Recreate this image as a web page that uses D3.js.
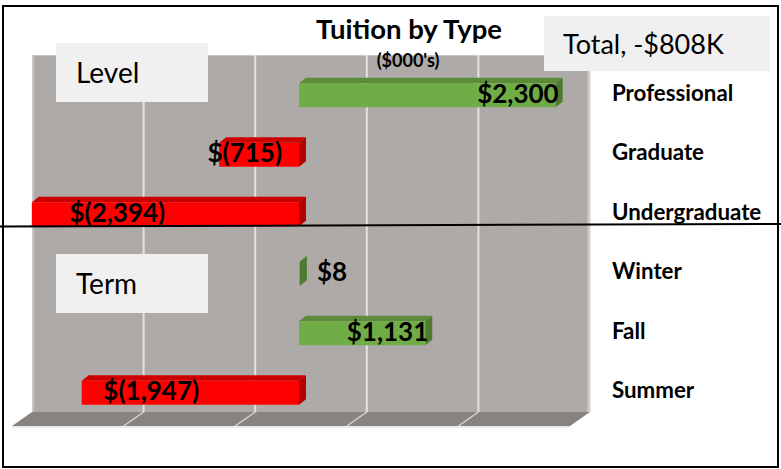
<!DOCTYPE html>
<html>
<head>
<meta charset="utf-8">
<script src="https://cdn.jsdelivr.net/npm/d3@7/dist/d3.min.js"></script>
<style>
  html, body { margin: 0; padding: 0; background: #ffffff; }
  svg { display: block; }
  text { font-family: Lato, "Open Sans", sans-serif; }
</style>
</head>
<body>
<svg id="chart" width="781" height="469"></svg>
<script>
// ---- data ----
const categories = ["Professional", "Graduate", "Undergraduate", "Winter", "Fall", "Summer"];
const values = [2300, -715, -2394, 8, 1131, -1947];
const gridTicks = [-2500, -1500, -500, 500, 1500, 2500];
const groups = ["Level", "Term"];
const totalValue = -808;
const title = "Tuition by Type";
const subtitle = "($000's)";

// ---- layout ----
const W = 781, H = 469;
const wall = { x0: 32, x1: 590, y0: 55, y1: 412 };
const depth = { dx: -20, dy: 14 };          // floor depth (back -> front)
const barFront = { dx: -12, dy: 10.5 };      // bar front plane offset from wall
const barTop = { dx: 7, dy: -5.5 };          // visible top / side depth of bars
const barH = 24;
const groupBoxTops = [43, 254];

const colors = {
  wall: "#aeaaa8", floor: "#878381", grid: "#e2e2e2",
  posFront: "#70ad47", posTop: "#5b8c39", posSide: "#4f7b30",
  negFront: "#ff0000", negTop: "#cc0000", negSide: "#b00000",
  box: "#f0f0f0"
};

const svg = d3.select("#chart");

const x = d3.scaleLinear().domain([-2500, 2500]).range([wall.x0, wall.x1]);
const y = d3.scaleBand().domain(categories).range([wall.y0, wall.y1]);
const xf = v => x(v) + barFront.dx;
const yc = c => y(c) + y.bandwidth() / 2 + barFront.dy;

const fmt = d3.format(",");
const label = v => v < 0 ? "$(" + fmt(-v) + ")" : "$" + fmt(v);

// outer frame
svg.append("rect").attr("x", 3).attr("y", 6).attr("width", 775).attr("height", 461)
  .attr("fill", "#fff").attr("stroke", "#000").attr("stroke-width", 2);

// back wall
svg.append("rect").attr("x", wall.x0).attr("y", wall.y0)
  .attr("width", wall.x1 - wall.x0).attr("height", wall.y1 - wall.y0)
  .attr("fill", colors.wall);
svg.append("line").attr("x1", wall.x0 + 1).attr("x2", wall.x0 + 1)
  .attr("y1", wall.y0).attr("y2", wall.y1).attr("stroke", "#c9c7c5").attr("stroke-width", 2);
svg.append("line").attr("x1", wall.x1 - 1).attr("x2", wall.x1 - 1)
  .attr("y1", wall.y0).attr("y2", wall.y1).attr("stroke", "#cfcdcb").attr("stroke-width", 3);
svg.append("line").attr("x1", wall.x0).attr("x2", wall.x1)
  .attr("y1", wall.y0 + 0.5).attr("y2", wall.y0 + 0.5).attr("stroke", "#c9c7c5").attr("stroke-width", 1);

// floor
const floorPts = [[wall.x0, wall.y1], [wall.x1, wall.y1],
  [wall.x1 + depth.dx, wall.y1 + depth.dy], [wall.x0 + depth.dx, wall.y1 + depth.dy]];
svg.append("polygon").attr("points", floorPts.map(p => p.join(",")).join(" "))
  .attr("fill", colors.floor);
svg.append("line").attr("x1", wall.x0 + depth.dx).attr("x2", wall.x1 + depth.dx)
  .attr("y1", wall.y1 + depth.dy + 1).attr("y2", wall.y1 + depth.dy + 1)
  .attr("stroke", "#e4e4e4").attr("stroke-width", 1.5);

// gridlines (wall + floor)
const inner = gridTicks.filter(t => x(t) > wall.x0 + 2 && x(t) < wall.x1 - 2);
svg.append("g").selectAll("line").data(inner).join("line")
  .attr("x1", d => x(d)).attr("x2", d => x(d))
  .attr("y1", wall.y0).attr("y2", wall.y1)
  .attr("stroke", colors.grid).attr("stroke-width", 2);
svg.append("g").selectAll("line").data(inner).join("line")
  .attr("x1", d => x(d)).attr("x2", d => x(d) + depth.dx)
  .attr("y1", wall.y1).attr("y2", wall.y1 + depth.dy)
  .attr("stroke", "#d6d6d6").attr("stroke-width", 1.5);

// bars
const data = categories.map((c, i) => ({ c, v: values[i] }));
const bars = svg.append("g").selectAll("g").data(data).join("g");
bars.each(function(d) {
  const g = d3.select(this);
  const pos = d.v >= 0;
  const xl = Math.min(xf(0), xf(d.v)), xr = Math.max(xf(0), xf(d.v));
  const yt = yc(d.c) - barH / 2, yb = yt + barH;
  const tdx = barTop.dx, tdy = barTop.dy;
  g.append("polygon")
    .attr("points", [[xl, yt], [xr, yt], [xr + tdx, yt + tdy], [xl + tdx, yt + tdy]].map(p => p.join(",")).join(" "))
    .attr("fill", pos ? colors.posTop : colors.negTop);
  g.append("polygon")
    .attr("points", [[xr, yt], [xr + tdx, yt + tdy], [xr + tdx, yb + tdy], [xr, yb]].map(p => p.join(",")).join(" "))
    .attr("fill", pos ? colors.posSide : colors.negSide);
  g.append("rect").attr("x", xl).attr("y", yt).attr("width", Math.max(0.5, xr - xl)).attr("height", barH)
    .attr("fill", pos ? colors.posFront : colors.negFront);
});

// data labels
const small = d => xf(d.v) - xf(0) < 60;
svg.append("g").selectAll("text").data(data).join("text")
  .attr("x", d => d.v < 0 ? xf(d.v * 0.68) : (small(d) ? xf(d.v) + 17 : xf(d.v) + 3))
  .attr("y", d => yc(d.c) + 7.5)
  .attr("text-anchor", d => d.v < 0 ? "middle" : (small(d) ? "start" : "end"))
  .attr("font-size", 26).attr("font-weight", 700).attr("fill", "#000")
  .text(d => label(d.v));

// category labels
svg.append("g").selectAll("text").data(categories).join("text")
  .attr("x", 612).attr("y", d => yc(d) + 5.5)
  .attr("font-size", 22.3).attr("font-weight", 700).attr("fill", "#000")
  .text(d => d);

// group boxes
const gBox = svg.append("g").selectAll("g").data(groups).join("g");
gBox.append("rect")
  .attr("x", 56).attr("y", (d, i) => groupBoxTops[i])
  .attr("width", 152).attr("height", 59).attr("fill", colors.box);
gBox.append("text")
  .attr("x", 76).attr("y", (d, i) => groupBoxTops[i] + 40)
  .attr("font-size", 28).attr("fill", "#000").text(d => d);

// total box
svg.append("rect").attr("x", 544).attr("y", 16).attr("width", 226).attr("height", 55)
  .attr("fill", colors.box);
svg.append("text").attr("x", 563).attr("y", 54).attr("font-size", 27).attr("fill", "#000")
  .text("Total, " + (totalValue < 0 ? "-" : "") + "$" + Math.abs(totalValue) + "K");

// separator between groups
svg.append("line").attr("x1", 0).attr("x2", W)
  .attr("y1", 226.5).attr("y2", 224)
  .attr("stroke", "#000").attr("stroke-width", 2);

// titles
svg.append("text").attr("x", 409).attr("y", 39).attr("text-anchor", "middle")
  .attr("font-size", 27.5).attr("font-weight", 700).text(title);
svg.append("text").attr("x", 408).attr("y", 67).attr("text-anchor", "middle")
  .attr("font-size", 18).attr("font-weight", 700).text(subtitle);
</script>
</body>
</html>
